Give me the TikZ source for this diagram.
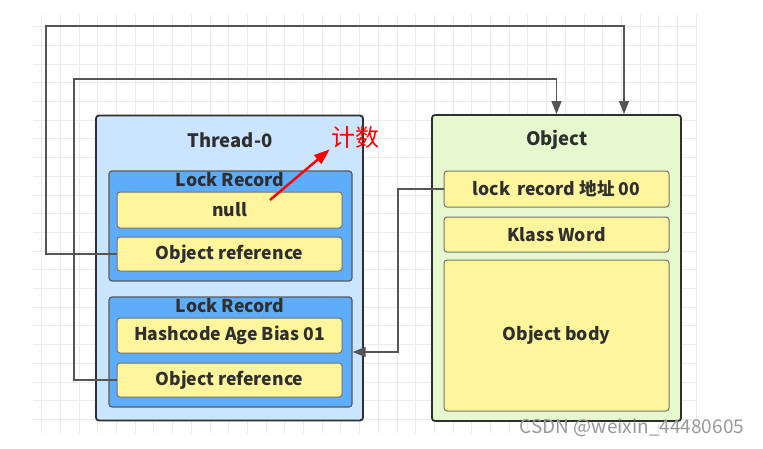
\documentclass[tikz,border=0pt]{standalone}
\usepackage{fontspec}
\setmainfont{Noto Sans CJK SC}
\usetikzlibrary{arrows.meta,positioning,calc}

\definecolor{threadblue}{HTML}{CCE5FF}
\definecolor{recordblue}{HTML}{5DADFB}
\definecolor{fieldyellow}{HTML}{FFF59D}
\definecolor{objgreen}{HTML}{E6F8CD}
\definecolor{inkgray}{HTML}{2F2F2F}
\definecolor{linegray}{HTML}{555555}
\definecolor{gridgray}{HTML}{EBEBEB}

\begin{document}
\begin{tikzpicture}[x=1pt,y=-1pt,>={Triangle[length=13pt,width=10pt]},
    outer box/.style={draw=inkgray,line width=1.8pt,rounded corners=3pt},
    record box/.style={draw=black!65,line width=1.2pt,rounded corners=3pt,fill=recordblue,minimum width=243pt,minimum height=110pt},
    field/.style={draw=black!55,line width=1pt,rounded corners=3pt,fill=fieldyellow,minimum width=225pt,font=\bfseries\fontsize{17.6}{19}\selectfont,text=inkgray},
    title/.style={font=\bfseries\fontsize{18.5}{21}\selectfont,text=inkgray},
    conn/.style={->,draw=linegray,line width=1.3pt}]

  \useasboundingbox (0,0) rectangle (763,448);
  \fill[white] (0,0) rectangle (763,448);

  % background grid
  \foreach \gx in {0,...,35} \draw[gridgray,line width=0.8pt] (41.6+18.7*\gx,15) -- (41.6+18.7*\gx,433);
  \foreach \gy in {0,...,21} \draw[gridgray,line width=0.8pt] (33,26.6+18.7*\gy) -- (697,26.6+18.7*\gy);

  % thread stack
  \node[outer box,fill=threadblue,minimum width=267pt,minimum height=305pt] (thread) at (229.5,268) {};
  \node[title] (threadname) at (230,140) {Thread-0};

  \node[record box] (lr1) at (230.5,226) {};
  \node[title,font=\bfseries\fontsize{17.6}{19}\selectfont] (lr1name) at (230,180) {Lock Record};
  \node[field,minimum height=36pt] (null) at (229.5,210) {null};
  \node[field,minimum height=34pt] (ref1) at (229.5,254) {Object reference};

  \node[record box] (lr2) at (230.5,352) {};
  \node[title,font=\bfseries\fontsize{17.6}{19}\selectfont] (lr2name) at (230,306) {Lock Record};
  \node[field,minimum height=35pt] (hash) at (229.5,335.5) {Hashcode Age Bias 01};
  \node[field,minimum height=34pt] (ref2) at (229.5,380) {Object reference};

  % object
  \node[outer box,fill=objgreen,minimum width=249pt,minimum height=306pt] (obj) at (556.5,268) {};
  \node[title] (objname) at (557,140) {Object};
  \node[field,minimum height=36pt] (addr) at (556.5,189) {lock\, record 地址 00};
  \node[field,minimum height=35pt] (klass) at (556.5,234.5) {Klass Word};
  \node[field,minimum height=151pt] (body) at (556.5,335.5) {Object body};

  % references
  \draw[conn] (ref1.west) -| (46,26) -| ([xshift=67.5pt]obj.north);
  \draw[conn] (ref2.west) -| (74,79) -| (obj.north);
  \draw[conn] (addr.west) -| (398,352) -- (lr2.east);

  % note
  \node[text=red,font=\fontsize{24}{26}\selectfont,inner sep=1pt] (count) at (355,137) {计数};
  \coordinate (tail) at (270,200);
  \draw[-{Triangle[length=16pt,width=11pt]},red,line width=2.4pt] (tail) -- (count.south west);

  \node[text=black!40,font=\fontsize{19}{21}\selectfont] (mark) at (632,428) {CSDN @weixin\_44480605};
\end{tikzpicture}
\end{document}
